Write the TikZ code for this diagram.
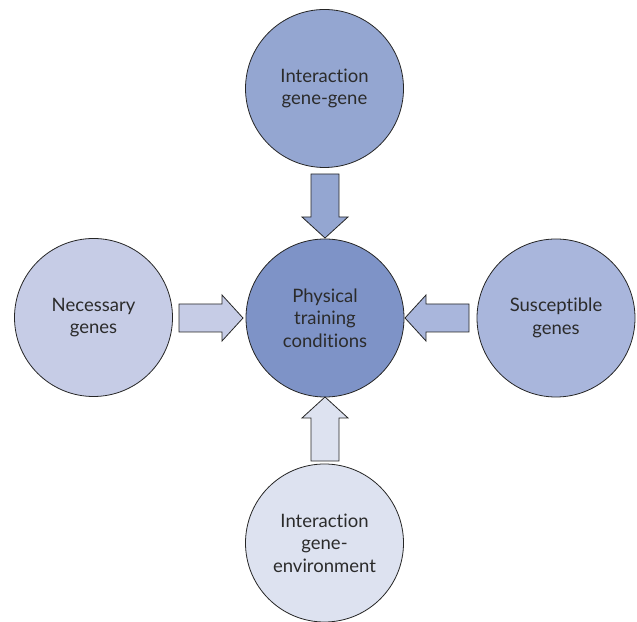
\documentclass[tikz,border=0pt]{standalone}
\usepackage{fontspec}
\setmainfont[Ligatures={NoCommon}]{Lato}
\definecolor{ctop}{HTML}{94A6D1}
\definecolor{ccen}{HTML}{7E93C7}
\definecolor{cleft}{HTML}{C6CCE6}
\definecolor{cright}{HTML}{A9B6DC}
\definecolor{cbot}{HTML}{DDE2F0}
\definecolor{ctext}{HTML}{2B2B2B}
\tikzset{
  bubble/.style={circle, draw=black!85, line width=0.8pt, minimum size=158pt, inner sep=0pt, outer sep=0pt,
    align=center, text=ctext, font=\fontsize{18.5}{22.5}\selectfont},
  barrow/.pic={\draw[pic actions] (0,0) -- (-21,23) -- (-21,14) -- (-64,14) -- (-64,-14) -- (-21,-14) -- (-21,-23) -- cycle;},
  arrowline/.style={draw=black!85, line width=0.8pt, line join=miter}
}
\begin{document}
\begin{tikzpicture}[x=1pt,y=1pt]
\useasboundingbox (0,0) rectangle (637,621);
\node[bubble, fill=ccen] (c) at (325,303) {Physical\\training\\conditions};
\node[bubble, fill=ctop] (t) at (324.5,532.5) {Interaction\\gene-gene};
\node[bubble, fill=cleft] (l) at (93.5,303.5) {Necessary\\genes};
\node[bubble, fill=cright] (r) at (556,303) {Susceptible\\genes};
\node[bubble, fill=cbot] (b) at (324.5,78) {Interaction\\gene-\\environment};
\pic[arrowline, fill=ctop, rotate=-90] at ([yshift=1]c.north) {barrow};
\pic[arrowline, fill=cleft] at ([xshift=-3]c.west) {barrow};
\pic[arrowline, fill=cright, rotate=180] at ([xshift=1]c.east) {barrow};
\pic[arrowline, fill=cbot, rotate=90] at (c.south) {barrow};
\end{tikzpicture}
\end{document}
